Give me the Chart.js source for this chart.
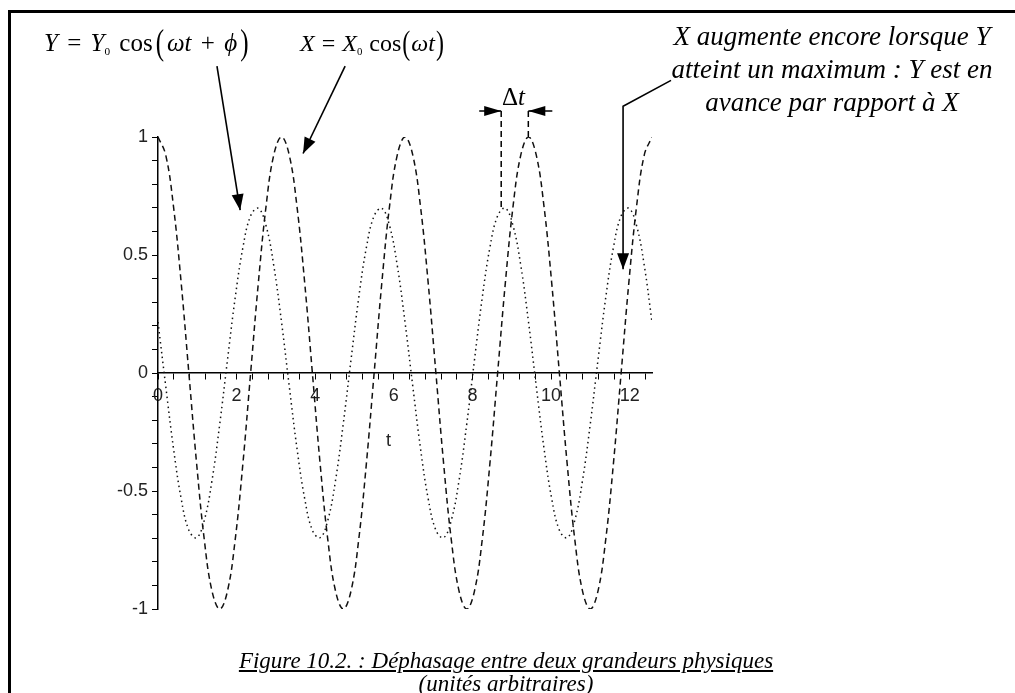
<!DOCTYPE html>
<html>
<head>
<meta charset="utf-8">
<script src="https://cdn.jsdelivr.net/npm/chart.js@4.4.1/dist/chart.umd.min.js"></script>
<style>
html, body { margin: 0; padding: 0; background: #fff; overflow: hidden; }
#wrap { position: relative; width: 1015px; height: 693px; overflow: hidden; }
#frame { position: absolute; left: 8px; top: 10px; width: 1100px; height: 800px; border: 3px solid #000; box-sizing: border-box; }
#chart { position: absolute; left: 0; top: 0; }
.txt { position: absolute; font-family: "Liberation Serif", "Times New Roman", serif; color: #000; white-space: nowrap; }
.eq { font-size: 25px; word-spacing: 3px; }
.eq.small { font-size: 24px; word-spacing: 1px; }
.eq sub { font-size: 0.45em; vertical-align: -0.35em; }
.par { display: inline-block; transform: scaleY(1.4); margin: 0 3px; }
.small .par { margin: 0 1px; }
.note { font-style: italic; font-size: 27px; text-align: center; line-height: 33px; }
.caption { font-style: italic; font-size: 23px; text-align: center; line-height: 23px; }
.axt { position: absolute; font-family: "Liberation Sans", Arial, sans-serif; font-size: 18px; color: #222; }
</style>
</head>
<body>
<div id="wrap">
  <div id="frame"></div>
  <canvas id="chart" width="1015" height="693"></canvas>

  <div class="txt eq" style="left:44px; top:29px;"><i>Y</i> = <i>Y</i><sub>0</sub> cos<span class="par">(</span><i>ωt</i> + <i>ϕ</i><span class="par">)</span></div>
  <div class="txt eq small" style="left:300px; top:30px;"><i>X</i> = <i>X</i><sub>0</sub> cos<span class="par">(</span><i>ωt</i><span class="par">)</span></div>
  <div class="txt eq" style="left:502px; top:83px;">Δ<i>t</i></div>

  <div class="txt note" style="left:647px; width:370px; top:20px;">X augmente encore lorsque Y<br>atteint un maximum : Y est en<br>avance par rapport à X</div>

  <div class="axt" style="left:386px; top:430px;">t</div>

  <div class="txt caption" style="left:0; width:1012px; top:649px;"><u>Figure 10.2. : Déphasage entre deux grandeurs physiques</u><br>(unités arbitraires)</div>
</div>

<script>
// t values (arbitrary units)
const tValues = [
    0, 0.196, 0.393, 0.589, 0.785, 0.982, 1.178, 1.374, 1.571, 1.767, 1.963, 2.160, 2.356, 2.553, 2.749, 2.945,
    3.142, 3.338, 3.534, 3.731, 3.927, 4.123, 4.320, 4.516, 4.712, 4.909, 5.105, 5.301, 5.498, 5.694, 5.890, 6.087,
    6.283, 6.480, 6.676, 6.872, 7.069, 7.265, 7.461, 7.658, 7.854, 8.050, 8.247, 8.443, 8.639, 8.836, 9.032, 9.229,
    9.425, 9.621, 9.818, 10.014, 10.210, 10.407, 10.603, 10.799, 10.996, 11.192, 11.388, 11.585, 11.781, 11.977, 12.174, 12.370,
    12.566
];

// X = X0 cos(wt)  (dashed curve)
const xValues = [
    1, 0.924, 0.707, 0.383, 0, -0.383, -0.707, -0.924, -1, -0.924, -0.707, -0.383, 0, 0.383, 0.707, 0.924,
    1, 0.924, 0.707, 0.383, 0, -0.383, -0.707, -0.924, -1, -0.924, -0.707, -0.383, 0, 0.383, 0.707, 0.924,
    1, 0.924, 0.707, 0.383, 0, -0.383, -0.707, -0.924, -1, -0.924, -0.707, -0.383, 0, 0.383, 0.707, 0.924,
    1, 0.924, 0.707, 0.383, 0, -0.383, -0.707, -0.924, -1, -0.924, -0.707, -0.383, 0, 0.383, 0.707, 0.924,
    1
];

// Y = Y0 cos(wt + phi)  (dotted curve)
const yValues = [
    0.216, -0.055, -0.318, -0.532, -0.666, -0.698, -0.624, -0.455, -0.216, 0.055, 0.318, 0.532, 0.666, 0.698, 0.624, 0.455,
    0.216, -0.055, -0.318, -0.532, -0.666, -0.698, -0.624, -0.455, -0.216, 0.055, 0.318, 0.532, 0.666, 0.698, 0.624, 0.455,
    0.216, -0.055, -0.318, -0.532, -0.666, -0.698, -0.624, -0.455, -0.216, 0.055, 0.318, 0.532, 0.666, 0.698, 0.624, 0.455,
    0.216, -0.055, -0.318, -0.532, -0.666, -0.698, -0.624, -0.455, -0.216, 0.055, 0.318, 0.532, 0.666, 0.698, 0.624, 0.455,
    0.216
];

// axis ticks: small marks every step, labels only on the label step
const tMax = 12.566;
const xTickStep = 0.4;
const xLabelStep = 2;
const yTickStep = 0.1;
const yLabelStep = 0.5;

// annotation arrows, in data units [t, value]
const arrowPaths = [
    [[1.50, 1.30], [2.09, 0.69]],              // from the Y formula
    [[4.76, 1.30], [3.69, 0.93]],              // from the X formula
    [[13.05, 1.24], [11.83, 1.13], [11.83, 0.44]]  // from the note on the right
];
const deltaLeft = 8.73;   // Y maximum
const deltaRight = 9.42;  // X maximum
const deltaLevel = 1.11;

function isMultiple(v, step) {
    const r = v / step;
    return Math.abs(r - Math.round(r)) < 1e-6;
}

function arrowHead(ctx, x0, y0, x1, y1, len, half) {
    const a = Math.atan2(y1 - y0, x1 - x0);
    ctx.beginPath();
    ctx.moveTo(x1, y1);
    ctx.lineTo(x1 - len * Math.cos(a) + half * Math.sin(a), y1 - len * Math.sin(a) - half * Math.cos(a));
    ctx.lineTo(x1 - len * Math.cos(a) - half * Math.sin(a), y1 - len * Math.sin(a) + half * Math.cos(a));
    ctx.closePath();
    ctx.fill();
}

const annotations = {
    id: 'annotations',
    afterDraw(chart) {
        const { ctx, scales: { x, y } } = chart;
        const px = v => x.getPixelForValue(v);
        const py = v => y.getPixelForValue(v);
        ctx.save();
        ctx.strokeStyle = '#000';
        ctx.fillStyle = '#000';
        ctx.lineWidth = 1.6;

        arrowPaths.forEach(path => {
            const pts = path.map(p => [px(p[0]), py(p[1])]);
            ctx.beginPath();
            ctx.moveTo(pts[0][0], pts[0][1]);
            for (let i = 1; i < pts.length; i++) ctx.lineTo(pts[i][0], pts[i][1]);
            ctx.stroke();
            const n = pts.length;
            arrowHead(ctx, pts[n - 2][0], pts[n - 2][1], pts[n - 1][0], pts[n - 1][1], 16, 6);
        });

        // Delta t marker
        const yl = py(deltaLevel);
        const xl = px(deltaLeft), xr = px(deltaRight);
        ctx.beginPath();
        ctx.moveTo(xl - 22, yl); ctx.lineTo(xl, yl);
        ctx.moveTo(xr + 24, yl); ctx.lineTo(xr, yl);
        ctx.stroke();
        arrowHead(ctx, xl - 22, yl, xl, yl, 17, 5);
        arrowHead(ctx, xr + 24, yl, xr, yl, 17, 5);

        ctx.setLineDash([6, 4]);
        ctx.lineWidth = 1.5;
        ctx.beginPath();
        ctx.moveTo(xl, yl); ctx.lineTo(xl, py(0.7));
        ctx.moveTo(xr, yl); ctx.lineTo(xr, py(1));
        ctx.stroke();
        ctx.restore();
    }
};

new Chart(document.getElementById('chart'), {
    type: 'line',
    data: {
        datasets: [
            {
                label: 'X',
                data: tValues.map((t, i) => ({ x: t, y: xValues[i] })),
                borderColor: '#111',
                borderWidth: 1.5,
                borderDash: [6, 4],
                pointRadius: 0,
                tension: 0.4,
                fill: false
            },
            {
                label: 'Y',
                data: tValues.map((t, i) => ({ x: t, y: yValues[i] })),
                borderColor: '#111',
                borderWidth: 1.5,
                borderDash: [1.5, 3.5],
                pointRadius: 0,
                tension: 0.4,
                fill: false
            }
        ]
    },
    options: {
        responsive: false,
        devicePixelRatio: 1,
        animation: false,
        layout: { padding: { left: 108, top: 137, right: 363, bottom: 84 } },
        plugins: { legend: { display: false }, tooltip: { enabled: false } },
        scales: {
            x: {
                type: 'linear',
                position: { y: 0 },
                min: 0,
                max: tMax,
                grid: { drawOnChartArea: false, drawTicks: true, tickLength: 6, color: '#000', lineWidth: 1 },
                border: { display: true, color: '#000', width: 1.5 },
                ticks: {
                    stepSize: xTickStep,
                    includeBounds: false,
                    autoSkip: false,
                    maxRotation: 0,
                    padding: 6,
                    color: '#222',
                    font: { family: '"Liberation Sans", Arial, sans-serif', size: 18 },
                    callback: v => isMultiple(v, xLabelStep) ? String(Math.round(v)) : ''
                }
            },
            y: {
                type: 'linear',
                position: 'left',
                min: -1,
                max: 1,
                afterFit: s => { s.width = 50; },
                grid: { drawOnChartArea: false, drawTicks: true, tickLength: 6, color: '#000', lineWidth: 1 },
                border: { display: true, color: '#000', width: 1.5 },
                ticks: {
                    stepSize: yTickStep,
                    autoSkip: false,
                    padding: 4,
                    color: '#222',
                    font: { family: '"Liberation Sans", Arial, sans-serif', size: 18 },
                    callback: v => isMultiple(v, yLabelStep) ? String(Math.round(v * 10) / 10) : ''
                }
            }
        }
    },
    plugins: [annotations]
});
</script>
</body>
</html>
